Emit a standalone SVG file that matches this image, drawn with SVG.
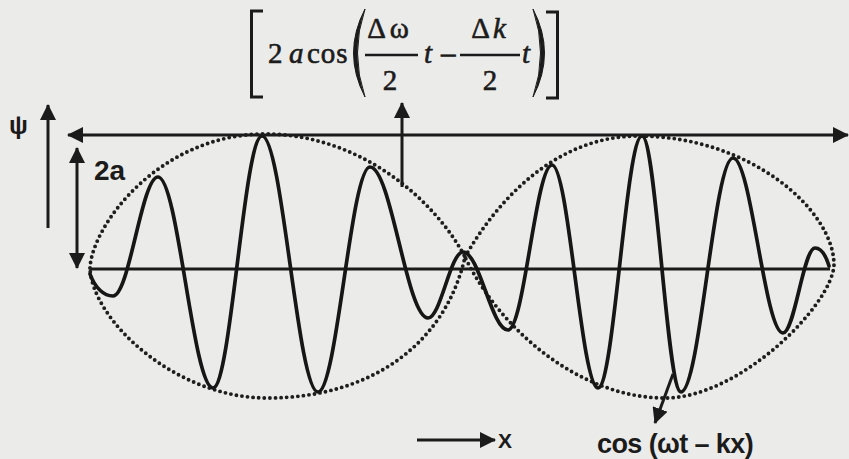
<svg xmlns="http://www.w3.org/2000/svg" width="849" height="459" viewBox="0 0 849 459">
  <style>
    .ink { stroke: #1b1b1b; fill: none; }
    .ln { stroke: #1b1b1b; stroke-width: 3; fill: none; }
    .dot { stroke: #1e1e1e; stroke-width: 3.9; fill: none; stroke-dasharray: 0 5.6; stroke-linecap: round; }
    .wave { stroke: #161616; stroke-width: 3.7; fill: none; stroke-linejoin: round; stroke-linecap: round; }
    .serif { font-family: "Liberation Serif", "Times New Roman", serif; font-size: 29px; fill: #1b1b1b; stroke: #1b1b1b; stroke-width: 0.6; }
    .delim { fill: #1b1b1b; stroke: #1b1b1b; stroke-width: 1; stroke-linejoin: round; }
    .brk { fill: none; stroke: #1b1b1b; stroke-width: 3; stroke-linejoin: miter; }
    .sans { font-family: "Liberation Sans", Arial, sans-serif; font-weight: bold; fill: #1b1b1b; }
    .it { font-style: italic; }
  </style>
  <defs>
    <marker id="ah" viewBox="0 0 16 16" refX="15" refY="8" markerWidth="16" markerHeight="16" markerUnits="userSpaceOnUse" orient="auto-start-reverse">
      <path d="M0,0 L16,8 L0,16 z" fill="#1b1b1b"/>
    </marker>
  </defs>

  <rect x="0" y="0" width="849" height="459" fill="#ebebe9"/>

  <g id="formula">
    <path class="brk" d="M263,11 L251.5,11 L251.5,97 L263,97"/>
    <text class="serif" x="268" y="63">2</text>
    <text class="serif it" x="289" y="63">a</text>
    <text class="serif" x="307" y="63" letter-spacing="1">cos</text>
    <path class="delim" d="M365,9 Q342,53 365,97 Q350,53 365,9 Z"/>
    <text class="serif" x="390" y="38" text-anchor="middle" letter-spacing="4">Δω</text>
    <line class="ink" x1="365" y1="55" x2="418" y2="55" stroke-width="2.4"/>
    <text class="serif" x="390" y="90" text-anchor="middle">2</text>
    <text class="serif it" x="424" y="63">t</text>
    <text class="serif" x="441" y="63">–</text>
    <text class="serif" x="490" y="38" text-anchor="middle" letter-spacing="3">Δ<tspan class="it">k</tspan></text>
    <line class="ink" x1="460" y1="55" x2="520" y2="55" stroke-width="2.4"/>
    <text class="serif" x="490" y="90" text-anchor="middle">2</text>
    <text class="serif it" x="522" y="63">t</text>
    <path class="delim" d="M533,9 Q556,53 533,97 Q548,53 533,9 Z"/>
    <path class="brk" d="M546,12 L557.5,12 L557.5,98 L546,98"/>
  </g>

  <g id="axes">
    <line class="ln" x1="90" y1="269" x2="830" y2="269"/>
  </g>

  <g id="envelope">
    <path class="dot" d="M90,268 C92,225 160,134 265,134 C360,134 435,200 465,257 C445,345 370,398 267,398 C175,398 92,320 90,268 Z"/>
    <path class="dot" d="M465,257 C500,195 560,136 638,136 C750,136 834,210 834,265 C832,305 740,398 665,398 C580,398 500,330 465,257 Z"/>
  </g>

  <g id="wave">
    <path class="wave" d="M90,274 C95,288 104,296 113,296
      C129.4,296 141.6,177 158,177
      C178,177 193,388 213,388
      C230.8,388 244.2,136 262,136
      C282.4,136 297.6,392 318,392
      C336.9,392 351.1,167 370,167
      C391.1,167 406.9,318 428,318
      C440.7,318 450.3,252 463,252
      C479.4,252 491.6,330 508,330
      C524,330 536,165 552,165
      C568.7,165 581.3,388 598,388
      C614,388 626,136 642,136
      C656.2,136 666.8,392 681,392
      C699.9,392 714.1,158 733,158
      C751.2,158 764.8,333 783,333
      C794.6,333 803.4,248 815,248
      C821,248 826,256 829,266"/>
  </g>

  <g id="connectors">
    <line class="ln" x1="68" y1="135" x2="848" y2="135" marker-start="url(#ah)" marker-end="url(#ah)"/>
    <line class="ln" x1="48" y1="228" x2="48" y2="105" marker-end="url(#ah)"/>
    <line class="ln" x1="77" y1="148" x2="77" y2="268" marker-start="url(#ah)" marker-end="url(#ah)"/>
    <line class="ln" x1="402" y1="187" x2="402" y2="103" marker-end="url(#ah)"/>
    <line class="ln" x1="417" y1="440" x2="495" y2="440" marker-end="url(#ah)"/>
    <line class="ln" x1="673" y1="374" x2="655" y2="423" marker-end="url(#ah)"/>
  </g>

  <g id="labels">
    <text class="sans" x="9" y="134" font-size="25">ψ</text>
    <text class="sans" x="94" y="180" font-size="28">2a</text>
    <text class="sans" x="498" y="448" font-size="21">X</text>
    <text class="sans" x="597" y="453" font-size="27" letter-spacing="-0.6">cos (ωt – kx)</text>
  </g>
</svg>
